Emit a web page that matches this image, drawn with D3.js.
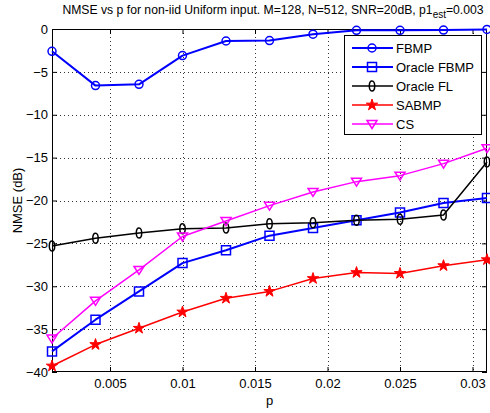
<!DOCTYPE html>
<html><head><meta charset="utf-8">
<script src="https://cdn.jsdelivr.net/npm/d3@7"></script>
<style>
html,body{margin:0;padding:0;background:#fff;}
svg{display:block;}
text{font-family:"Liberation Sans",Arial,Helvetica,sans-serif;fill:#000;}
</style></head>
<body>
<svg id="chart" width="490" height="413"></svg>
<script>
// ---- data ----
const pValues = [0.001,0.004,0.007,0.010,0.013,0.016,0.019,0.022,0.025,0.028,0.031];
const fbmp        = [-2.6,-6.6,-6.45,-3.1,-1.4,-1.35,-0.6,-0.15,-0.15,-0.12,-0.05];
const oracleFbmp  = [-37.6,-33.9,-30.6,-27.3,-25.8,-24.1,-23.2,-22.3,-21.4,-20.3,-19.7];
const oracleFl    = [-25.3,-24.4,-23.8,-23.3,-23.2,-22.7,-22.6,-22.3,-22.2,-21.7,-15.5];
const sabmp       = [-39.3,-36.8,-34.9,-33.0,-31.4,-30.6,-29.1,-28.4,-28.5,-27.6,-26.9];
const cs          = [-36.1,-31.7,-28.1,-24.2,-22.4,-20.6,-19.0,-17.8,-17.1,-15.7,-13.9];
const seriesNames = ["FBMP","Oracle FBMP","Oracle FL","SABMP","CS"];
const xTicks = [0.005,0.01,0.015,0.02,0.025,0.03];
const xTickLabels = ["0.005","0.01","0.015","0.02","0.025","0.03"];
const yTicks = [0,-5,-10,-15,-20,-25,-30,-35,-40];

const series = [
  {name:seriesNames[0], values:fbmp,       color:"#0000ff", width:2,   marker:"circle"},
  {name:seriesNames[1], values:oracleFbmp, color:"#0000ff", width:2,   marker:"square"},
  {name:seriesNames[2], values:oracleFl,   color:"#000000", width:1.5, marker:"diamond"},
  {name:seriesNames[3], values:sabmp,      color:"#ff0000", width:1.5, marker:"star"},
  {name:seriesNames[4], values:cs,         color:"#ff00ff", width:1.5, marker:"tridown"}
];

const svg = d3.select("#chart");
const L=52, R=487, T=29, B=372;
const x = d3.scaleLinear().domain([0.001,0.031]).range([L,R]);
const y = d3.scaleLinear().domain([-40,0]).range([B,T]);

// grid
const grid = svg.append("g").attr("stroke","#333").attr("stroke-width",1).attr("stroke-dasharray","1,3");
xTicks.forEach(t=>grid.append("line").attr("x1",Math.round(x(t))+0.5).attr("x2",Math.round(x(t))+0.5).attr("y1",T).attr("y2",B));
yTicks.slice(1,-1).forEach(t=>grid.append("line").attr("y1",Math.round(y(t))+0.5).attr("y2",Math.round(y(t))+0.5).attr("x1",L).attr("x2",R));

// axes with inward ticks
const xAxisB = d3.axisBottom(x).tickValues(xTicks).tickFormat((d,i)=>xTickLabels[i]).tickSizeInner(-5).tickSizeOuter(0).tickPadding(7);
const xAxisT = d3.axisTop(x).tickValues(xTicks).tickFormat("").tickSizeInner(-5).tickSizeOuter(0);
const yAxisL = d3.axisLeft(y).tickValues(yTicks).tickFormat(d3.format("d")).tickSizeInner(-5).tickSizeOuter(0).tickPadding(4);
const yAxisR = d3.axisRight(y).tickValues(yTicks).tickFormat("").tickSizeInner(-5).tickSizeOuter(0);

function styleAxis(g){
  g.select(".domain").remove();
  g.selectAll("line").attr("stroke","#000");
  g.selectAll("text").attr("font-size","13px").attr("font-family","Liberation Sans, Arial, sans-serif").attr("fill","#000");
}
svg.append("g").attr("transform",`translate(0,${B})`).call(xAxisB).call(styleAxis);
svg.append("g").attr("transform",`translate(0,${T})`).call(xAxisT).call(styleAxis);
svg.append("g").attr("transform",`translate(${L},0)`).call(yAxisL).call(styleAxis);
svg.append("g").attr("transform",`translate(${R},0)`).call(yAxisR).call(styleAxis);

// box
svg.append("rect").attr("x",L+0.5).attr("y",T+0.5).attr("width",R-L-1).attr("height",B-T-1)
  .attr("fill","none").attr("stroke","#000").attr("stroke-width",1);

// marker paths
function markerPath(type){
  switch(type){
    case "circle": return d3.symbol(d3.symbolCircle, 50)();
    case "square": return "M-4.5,-4.5H4.5V4.5H-4.5Z";
    case "diamond": return "M0,-5 C1.9,-5 2.7,-2.5 2.7,0 C2.7,2.5 1.9,5 0,5 C-1.9,5 -2.7,2.5 -2.7,0 C-2.7,-2.5 -1.9,-5 0,-5Z";
    case "star": return d3.symbol(d3.symbolStar, 40)();
    case "tridown": return "M-5,-3.5H5L0,4.5Z";
  }
}

const line = d3.line().x((d,i)=>x(pValues[i])).y(d=>y(d));
series.forEach(s=>{
  const g = svg.append("g");
  g.append("path").datum(s.values).attr("d",line).attr("fill","none").attr("stroke",s.color).attr("stroke-width",s.width).attr("stroke-linejoin","round");
  g.selectAll("path.m").data(s.values).enter().append("path").attr("class","m")
    .attr("transform",(d,i)=>`translate(${x(pValues[i])},${y(d)})`)
    .attr("d",markerPath(s.marker))
    .attr("fill", s.marker==="star" ? s.color : "none")
    .attr("stroke",s.color).attr("stroke-width",s.marker==="star"?1:1.5);
});

// legend
const lg = svg.append("g");
lg.append("rect").attr("x",344.5).attr("y",35.5).attr("width",137).attr("height",99).attr("fill","#fff").attr("stroke","#000").attr("stroke-width",1);
series.forEach((s,i)=>{
  const yy = 48 + i*19;
  lg.append("line").attr("x1",352).attr("x2",393).attr("y1",yy).attr("y2",yy).attr("stroke",s.color).attr("stroke-width",s.width);
  lg.append("path").attr("transform",`translate(372,${yy})`).attr("d",markerPath(s.marker))
    .attr("fill", s.marker==="star" ? s.color : "none").attr("stroke",s.color).attr("stroke-width",s.marker==="star"?1:1.5);
  lg.append("text").attr("x",396).attr("y",yy+4.5).attr("font-size","13px").text(s.name);
});

// labels
svg.append("text").attr("x",269.5).attr("y",405).attr("text-anchor","middle").attr("font-size","13px").text("p");
svg.append("text").attr("transform","translate(22,200.5) rotate(-90)").attr("text-anchor","middle").attr("font-size","13px").text("NMSE (dB)");
const title = svg.append("text").attr("x",273).attr("y",14).attr("text-anchor","middle").attr("font-size","12.2px");
title.append("tspan").text("NMSE vs p for non-iid Uniform input. M=128, N=512, SNR=20dB, p1");
title.append("tspan").attr("font-size","10px").attr("dy",4).text("est");
title.append("tspan").attr("dy",-4).text("=0.003");
</script>
</body></html>
